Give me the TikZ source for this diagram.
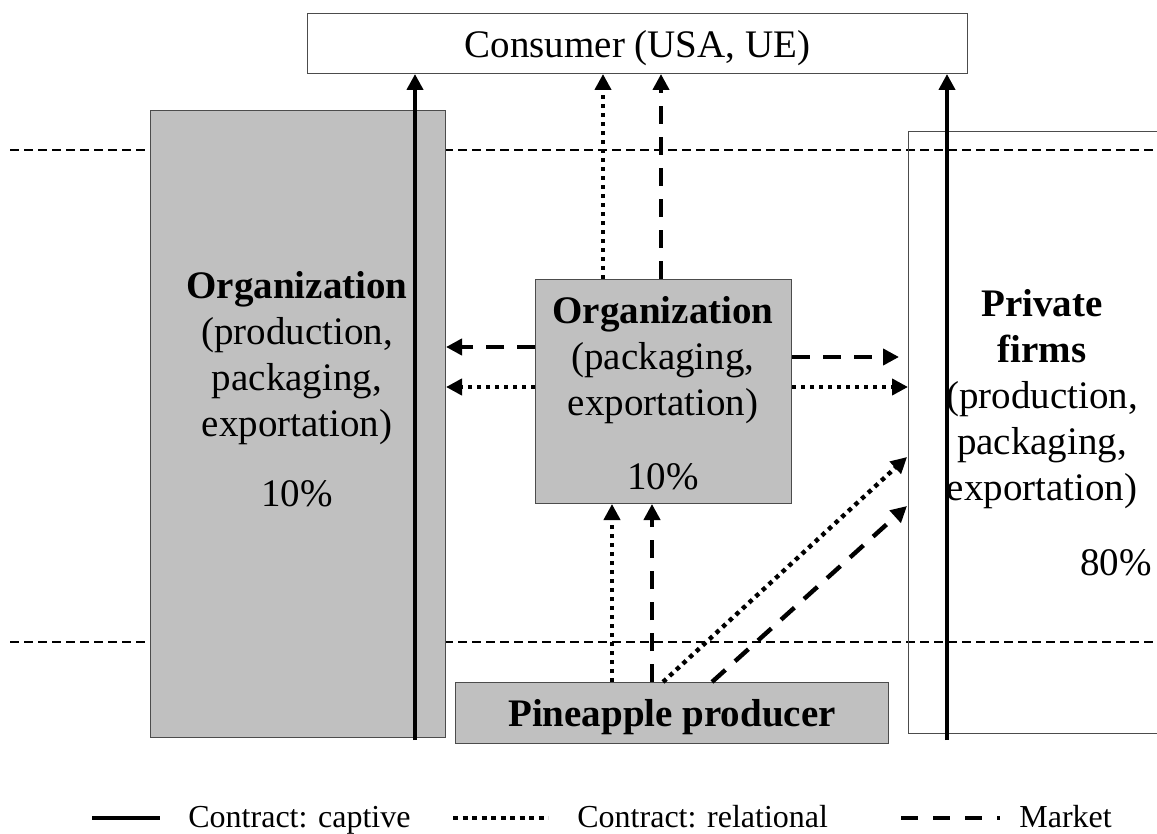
\documentclass[tikz,border=0pt]{standalone}
\usepackage{fontspec}
\setmainfont{Liberation Serif}
\usetikzlibrary{arrows.meta}
\definecolor{boxgray}{RGB}{192,192,192}
\tikzstyle{box}=[draw=black!70, line width=0.5pt, inner sep=0pt, anchor=north west]
\tikzstyle{graybox}=[box, fill=boxgray]
\tikzstyle{captive}=[line width=2.2pt, -{Triangle[length=8pt,width=8pt]}]
\tikzstyle{relational}=[captive, dash pattern=on 2.2pt off 2.3pt]
\tikzstyle{market}=[captive, dash pattern=on 9pt off 6.5pt]
\tikzstyle{level}=[line width=1.2pt, dash pattern=on 4.5pt off 2.5pt]
\newcommand{\boxfont}{\fontsize{19.5}{23}\selectfont}
\newcommand{\legendfont}{\fontsize{16}{19}\selectfont}

\begin{document}
\begin{tikzpicture}[x=0.5pt,y=-0.5pt]
\useasboundingbox (0,0) rectangle (1157,834);
\clip (0,0) rectangle (1157,834);
% levels of the chain
\draw[level] (10,150) -- (1157,150);
\draw[level] (10,642) -- (1157,642);
% boxes
\node[box, fill=white, minimum width=330pt, minimum height=30pt, text depth=0pt, font=\boxfont] (cons) at (307,13) {Consumer (USA, UE)};
\node[graybox, minimum width=147.5pt, minimum height=313.5pt] (orgL) at (150,110) {};
\node[box, minimum width=130pt, minimum height=301pt] (firms) at (908,131) {};
\node[graybox, minimum width=128pt, minimum height=112pt] (orgC) at (535,279) {};
\node[graybox, minimum width=216.5pt, minimum height=30.5pt, text depth=0pt, font=\boxfont\bfseries] (prod) at (455,682) {Pineapple producer};
% texts
\node[anchor=north, align=center, inner sep=0pt, font=\boxfont] (txtL) at (297,271) {\textbf{Organization}\\(production,\\packaging,\\exportation)\\[12pt]10\%};
\node[anchor=north, align=center, inner sep=0pt, font=\boxfont] (txtC) at (663,296) {\textbf{Organization}\\(packaging,\\exportation)\\[14pt]10\%};
\node[anchor=north, align=center, inner sep=0pt, font=\boxfont] (txtR) at (1042,289) {\textbf{Private}\\\textbf{firms}\\(production,\\packaging,\\exportation)};
\node[anchor=base, inner sep=0pt, font=\boxfont] (pctR) at (1116,575) {80\%};
% contracts
\coordinate (xL) at (415,740);
\coordinate (xR) at (947,740);
\draw[captive] (xL) -- (xL |- cons.south);
\draw[captive] (xR) -- (xR |- cons.south);
\coordinate (xRelU) at (603,0);
\coordinate (xMktU) at (661,0);
\draw[relational] (xRelU |- orgC.north) -- (xRelU |- cons.south);
\draw[market] (xMktU |- orgC.north) -- (xMktU |- cons.south);
\coordinate (xRelD) at (612,0);
\coordinate (xMktD) at (652,0);
\draw[relational] (xRelD |- prod.north) -- (xRelD |- orgC.south);
\draw[market] (xMktD |- prod.north) -- (xMktD |- orgC.south);
\coordinate (xRelP) at (663,0);
\coordinate (xMktP) at (712,0);
\coordinate (relF) at (907,457);
\coordinate (mktF) at (907,506);
\draw[relational] (xRelP |- prod.north) -- (relF);
\draw[market] (xMktP |- prod.north) -- (mktF);
\coordinate (yMktL) at (0,347);
\coordinate (yMktR) at (0,357);
\coordinate (yRel) at (0,387);
\coordinate (mktR) at (899,357);
\draw[market] (orgC.west |- yMktL) -- (orgL.east |- yMktL);
\draw[relational] (orgC.west |- yRel) -- (orgL.east |- yRel);
\draw[market] (orgC.east |- yMktR) -- (mktR);
\draw[relational] (orgC.east |- yRel) -- (firms.west |- yRel);
% legend
\coordinate (capA) at (92,818);
\coordinate (capB) at (160,818);
\coordinate (relA) at (453,818);
\coordinate (relB) at (548,818);
\coordinate (mktA) at (901,818);
\coordinate (mktB) at (1000,818);
\draw[line width=2.2pt] (capA) -- (capB);
\draw[line width=2pt, dash pattern=on 2.5pt off 2.25pt] (relA) -- (relB);
\draw[line width=1.8pt, dash pattern=on 8.5pt off 7.5pt] (mktA) -- (mktB);
\node[anchor=base west, inner sep=0pt, font=\legendfont] (lgCap) at (188,827) {Contract: captive};
\node[anchor=base west, inner sep=0pt, font=\legendfont] (lgRel) at (577,827) {Contract: relational};
\node[anchor=base west, inner sep=0pt, font=\legendfont] (lgMkt) at (1019,827) {Market};
\end{tikzpicture}
\end{document}
